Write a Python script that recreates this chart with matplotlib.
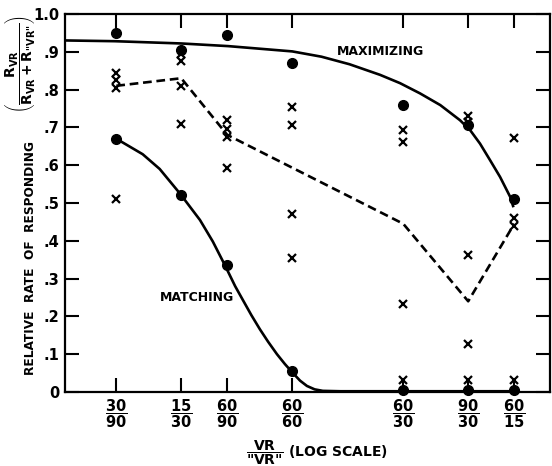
"""
Relative rate of responding vs VR/"VR" ratio (log scale): maximizing vs matching.
"""

import matplotlib
matplotlib.use('Agg')
import matplotlib.pyplot as plt
import numpy as np

# Schedule ratios (VR / "VR") and their tick labels
ratios = [1 / 3, 1 / 2, 2 / 3, 1.0, 2.0, 3.0, 4.0]
tick_labels = ['30/90', '15/30', '60/90', '60/60', '60/30', '90/30', '60/15']

# Predicted points (filled circles)
max_points = [0.95, 0.905, 0.945, 0.87, 0.76, 0.705, 0.51]
match_points = [0.67, 0.522, 0.335, 0.055, 0.005, 0.005, 0.005]

# Individual subjects (crosses)
cross_x = [1 / 3, 1 / 3, 1 / 3, 1 / 3,
           1 / 2, 1 / 2, 1 / 2, 1 / 2,
           2 / 3, 2 / 3, 2 / 3, 2 / 3,
           1.0, 1.0, 1.0, 1.0,
           2.0, 2.0, 2.0, 2.0,
           3.0, 3.0, 3.0, 3.0, 3.0,
           4.0, 4.0, 4.0, 4.0]
cross_y = [0.845, 0.825, 0.805, 0.51,
           0.895, 0.875, 0.81, 0.71,
           0.72, 0.695, 0.675, 0.592,
           0.755, 0.705, 0.472, 0.355,
           0.692, 0.662, 0.232, 0.032,
           0.73, 0.715, 0.362, 0.127, 0.032,
           0.673, 0.46, 0.44, 0.032]

# Dashed line (group means)
mean_x = [1 / 3, 1 / 2, 2 / 3, 2.0, 3.0, 4.0]
mean_y = [0.81, 0.83, 0.68, 0.445, 0.24, 0.445]

# Theoretical curves
max_curve_x = [0.242, 0.33, 0.5, 0.67, 1.0, 1.2, 1.43, 1.73, 1.96, 2.22, 2.52,
               2.85, 3.04, 3.23, 3.44, 3.66, 3.90, 3.97]
max_curve_y = [0.930, 0.928, 0.922, 0.915, 0.901, 0.887, 0.867, 0.839, 0.817,
               0.790, 0.759, 0.719, 0.692, 0.657, 0.613, 0.569, 0.516, 0.492]

match_curve_x = [1 / 3, 0.393, 0.437, 0.496, 0.562, 0.609, 0.657, 0.70, 0.735,
                 0.775, 0.817, 0.86, 0.909, 0.955, 1.0, 1.05, 1.096, 1.15,
                 1.21, 1.35, 4.0]
match_curve_y = [0.670, 0.629, 0.590, 0.525, 0.455, 0.398, 0.335, 0.280, 0.243,
                 0.203, 0.166, 0.133, 0.100, 0.074, 0.052, 0.030, 0.016, 0.007,
                 0.003, 0.002, 0.002]


def create_plot():
    plt.rcParams['font.family'] = ['DejaVu Sans']
    plt.rcParams['mathtext.fontset'] = 'custom'
    plt.rcParams['mathtext.rm'] = 'DejaVu Sans:bold'
    plt.rcParams['mathtext.it'] = 'DejaVu Sans:bold'
    plt.rcParams['mathtext.bf'] = 'DejaVu Sans:bold'

    fig = plt.figure(figsize=(5.52, 4.66), dpi=100)
    ax = fig.add_axes([0.1178, 0.1588, 0.8786, 0.8112])

    # Curves
    ax.plot(max_curve_x, max_curve_y, color='black', linewidth=1.9, zorder=3)
    ax.plot(match_curve_x, match_curve_y, color='black', linewidth=1.9, zorder=3)
    dash, = ax.plot(mean_x, mean_y, color='black', linewidth=1.9, zorder=3)
    dash.set_dashes([3.3, 1.8])

    # Points
    ax.plot(ratios, max_points, 'o', color='black', markersize=7, zorder=4, clip_on=False)
    ax.plot(ratios, match_points, 'o', color='black', markersize=7, zorder=4, clip_on=False)
    ax.plot(cross_x, cross_y, 'x', color='black', markersize=5.5,
            markeredgewidth=1.6, zorder=5, clip_on=False)

    # Labels on curves
    ax.text(1.74, 0.9, 'MAXIMIZING', fontsize=9, fontweight='bold',
            ha='center', va='center')
    ax.text(0.553, 0.25, 'MATCHING', fontsize=9, fontweight='bold',
            ha='center', va='center')

    # Axes
    ax.set_xscale('log')
    ax.set_xlim(0.242, 5.0)
    ax.set_ylim(0, 1.0)
    ax.minorticks_off()

    ax.set_xticks(ratios)
    frac_labels = []
    for lab in tick_labels:
        num, den = lab.split('/')
        frac_labels.append(r'$\dfrac{%s}{%s}$' % (num, den))
    ax.set_xticklabels(frac_labels, fontsize=10.5)

    yticks = np.arange(0, 1.01, 0.1)
    ax.set_yticks(yticks)
    ax.set_yticklabels(['0', '.1', '.2', '.3', '.4', '.5', '.6', '.7', '.8', '.9', '1.0'],
                       fontsize=10.5, fontweight='bold')

    ax.tick_params(axis='x', direction='in', length=10, width=1.5, top=True,
                   bottom=True, pad=4)
    ax.tick_params(axis='y', direction='in', length=10, width=1.5, right=True,
                   left=True, pad=4)

    for spine in ax.spines.values():
        spine.set_linewidth(1.6)

    # Axis titles
    fig.text(0.575, 0.028, r'$\dfrac{VR}{\text{"VR"}}$ (LOG SCALE)', fontsize=10,
             fontweight='bold', ha='center', va='center')
    fig.text(0.056, 0.446, 'RELATIVE  RATE  OF  RESPONDING', fontsize=8.7,
             fontweight='bold', rotation=90, ha='center', va='center')
    fig.text(0.036, 0.862, r'$\left(\dfrac{R_{VR}}{R_{VR}+R_{\text{"VR"}}}\right)$',
             fontsize=10, rotation=90, ha='center', va='center')

    output_png = 'out.png'
    fig.savefig(output_png, dpi=100)
    print(f"Saved plot to: {output_png}")
    plt.close(fig)


if __name__ == "__main__":
    create_plot()
